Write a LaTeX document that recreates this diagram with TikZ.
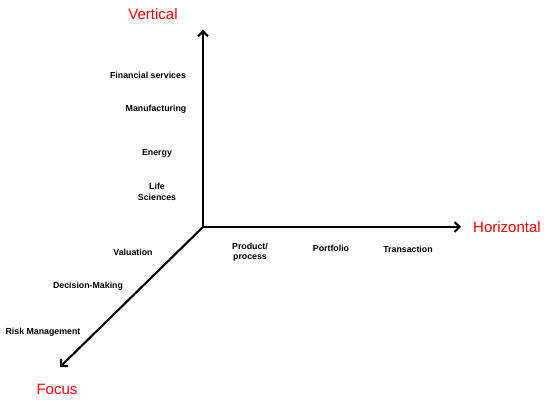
\documentclass[tikz,border=0pt]{standalone}
\usepackage{fontspec}
\setmainfont{Liberation Sans}
\usetikzlibrary{arrows.meta}
\begin{document}
\begin{tikzpicture}[x=1pt,y=-1pt,
  axis/.style={line width=2.1pt,-{Straight Barb[length=5pt,width=10pt,line width=2.1pt]}},
  lbl/.style={font=\fontsize{8.8}{10.5}\selectfont\bfseries,align=center,inner sep=0pt},
  ttl/.style={font=\fontsize{15}{17}\selectfont,text=red,inner sep=0pt}]
\useasboundingbox (0,0) rectangle (550,406);
\coordinate (o) at (203,227);
\coordinate (vt) at (203,30);
\coordinate (ht) at (461,227);
\coordinate (ft) at (60,367);
\draw[axis] (o) -- (vt);
\draw[axis] (o) -- (ht);
\draw[axis] (o) -- (ft);
\node[ttl] (vert) at (153,14) {Vertical};
\node[ttl] (hor) at (507,227) {Horizontal};
\node[ttl] (foc) at (57,389) {Focus};
\node[lbl] (fin) at (148,75) {Financial services};
\node[lbl] (man) at (156,109) {Manufacturing};
\node[lbl] (ene) at (157,153) {Energy};
\node[lbl] (life) at (157,192) {Life\\Sciences};
\node[lbl] (val) at (133,252) {Valuation};
\node[lbl] (dec) at (88,286) {Decision-Making};
\node[lbl] (risk) at (43,332) {Risk Management};
\node[lbl] (prod) at (250,252) {Product/\\process};
\node[lbl] (port) at (331,248) {Portfolio};
\node[lbl] (tran) at (408,249) {Transaction};
\end{tikzpicture}
\end{document}
